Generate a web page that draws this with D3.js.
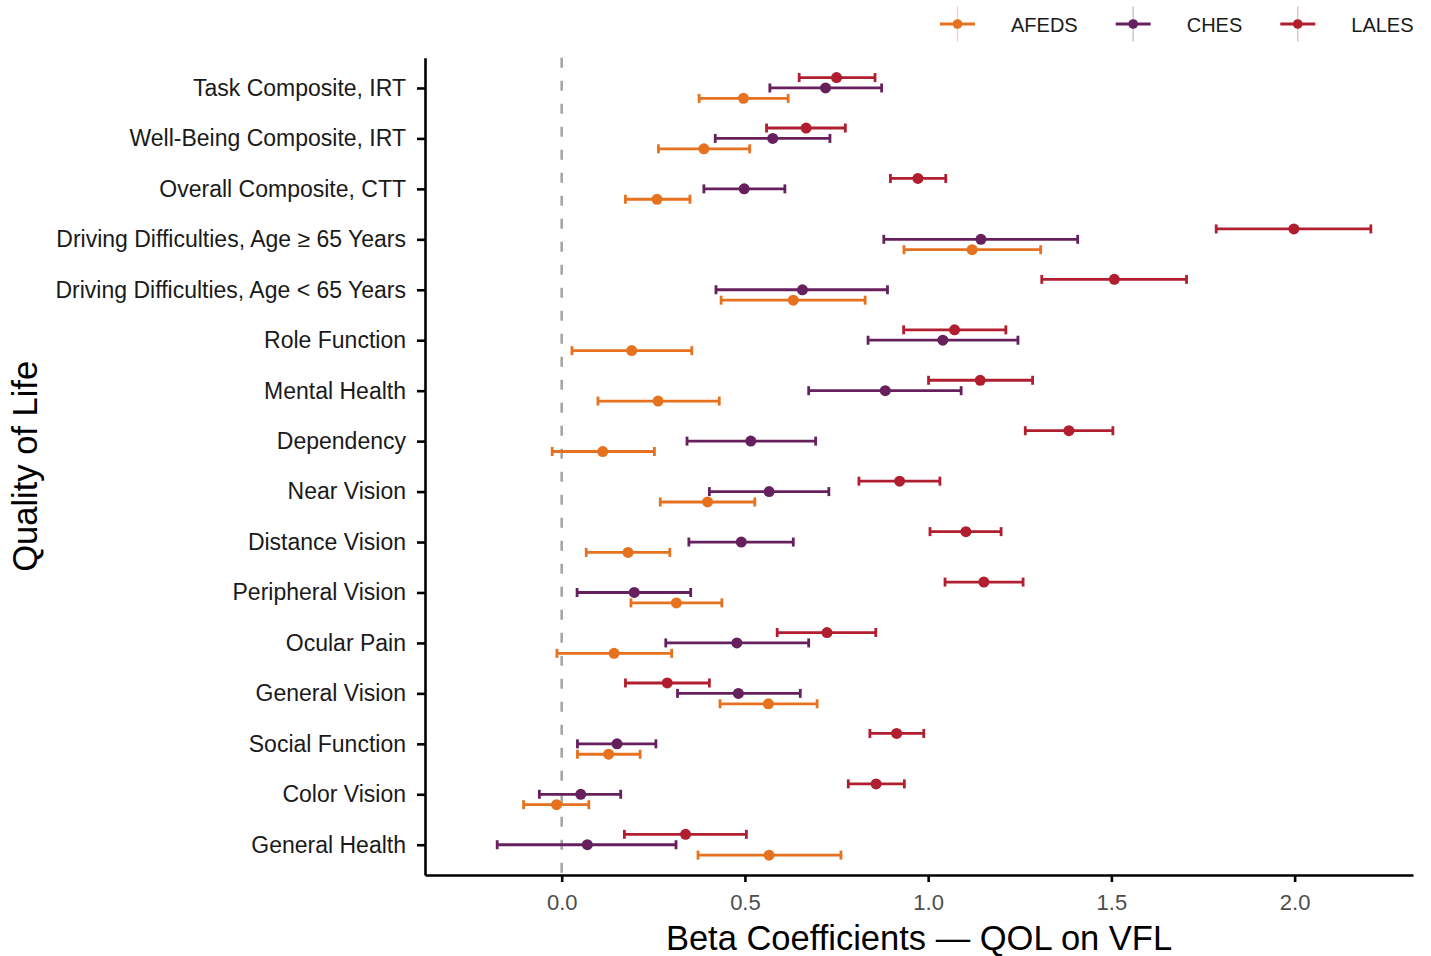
<!DOCTYPE html>
<html>
<head>
<meta charset="utf-8">
<script src="https://cdn.jsdelivr.net/npm/d3@7"></script>
<style>
  html, body { margin: 0; padding: 0; background: #fff; }
  svg { display: block; font-family: "Liberation Sans", Arial, Helvetica, sans-serif; }
</style>
</head>
<body>
<div id="chart"></div>
<script>
// categories, top to bottom
const categories = [
  "Task Composite, IRT",
  "Well-Being Composite, IRT",
  "Overall Composite, CTT",
  "Driving Difficulties, Age \u2265 65 Years",
  "Driving Difficulties, Age < 65 Years",
  "Role Function",
  "Mental Health",
  "Dependency",
  "Near Vision",
  "Distance Vision",
  "Peripheral Vision",
  "Ocular Pain",
  "General Vision",
  "Social Function",
  "Color Vision",
  "General Health"
];

const seriesNames = ["AFEDS", "CHES", "LALES"];
const seriesColors = ["#E6711F", "#66205E", "#B11E2F"];

// beta estimates and 95% CI, same order as categories
const afedsEst = [0.496, 0.388, 0.260, 1.120, 0.632, 0.191, 0.263, 0.112, 0.398, 0.181, 0.313, 0.143, 0.564, 0.128, -0.014, 0.566];
const afedsLo  = [0.375, 0.264, 0.174, 0.934, 0.435, 0.028, 0.099, -0.026, 0.269, 0.067, 0.189, -0.013, 0.432, 0.043, -0.104, 0.372];
const afedsHi  = [0.618, 0.513, 0.350, 1.307, 0.828, 0.355, 0.430, 0.253, 0.527, 0.295, 0.437, 0.300, 0.697, 0.214, 0.074, 0.762];

const chesEst = [0.720, 0.576, 0.498, 1.144, 0.657, 1.040, 0.883, 0.516, 0.566, 0.490, 0.198, 0.478, 0.482, 0.151, 0.052, 0.070];
const chesLo  = [0.568, 0.419, 0.388, 0.879, 0.421, 0.836, 0.674, 0.342, 0.403, 0.347, 0.042, 0.284, 0.316, 0.043, -0.061, -0.176];
const chesHi  = [0.873, 0.732, 0.609, 1.408, 0.889, 1.245, 1.090, 0.693, 0.729, 0.632, 0.352, 0.674, 0.651, 0.257, 0.161, 0.312];

const lalesEst = [0.750, 0.667, 0.972, 1.998, 1.508, 1.072, 1.142, 1.384, 0.922, 1.103, 1.152, 0.724, 0.288, 0.914, 0.858, 0.338];
const lalesLo  = [0.648, 0.559, 0.897, 1.786, 1.310, 0.933, 1.001, 1.265, 0.811, 1.005, 1.046, 0.588, 0.174, 0.841, 0.782, 0.171];
const lalesHi  = [0.855, 0.774, 1.048, 2.208, 1.705, 1.212, 1.285, 1.504, 1.032, 1.199, 1.259, 0.857, 0.403, 0.988, 0.935, 0.504];

const xTicks = [0, 0.5, 1.0, 1.5, 2.0];
const xDomain = [-0.373, 2.323];

const W = 1431, H = 956;
const m = { top: 57.7, right: 18, bottom: 81, left: 425 };

const table = [];
[[afedsEst, afedsLo, afedsHi], [chesEst, chesLo, chesHi], [lalesEst, lalesLo, lalesHi]].forEach((s, si) => {
  categories.forEach((c, i) => {
    table.push({ cat: c, series: seriesNames[si], est: s[0][i], lo: s[1][i], hi: s[2][i] });
  });
});

const color = d3.scaleOrdinal(seriesNames, seriesColors);

const svg = d3.select("#chart").append("svg").attr("width", W).attr("height", H);

const x = d3.scaleLinear().domain(xDomain).range([m.left, W - m.right]);
const y = d3.scalePoint().domain(categories).range([m.top, H - m.bottom]).padding(0.6);
// dodge: LALES on top, AFEDS at bottom
const dodge = d3.scalePoint().domain(["LALES", "CHES", "AFEDS"]).range([-10.4, 10.4]);

// zero reference line
svg.append("line")
  .attr("x1", x(0)).attr("x2", x(0))
  .attr("y1", m.top).attr("y2", H - m.bottom)
  .attr("stroke", "#A6A6A6").attr("stroke-width", 2.6)
  .attr("stroke-dasharray", "10,13");

// axes
const yAxis = svg.append("g")
  .attr("transform", `translate(${m.left},0)`)
  .call(d3.axisLeft(y).tickSize(8).tickSizeOuter(0).tickPadding(11));
yAxis.selectAll("text").style("font-size", "23px").attr("fill", "#1a1a1a");

const xAxis = svg.append("g")
  .attr("transform", `translate(0,${H - m.bottom})`)
  .call(d3.axisBottom(x).tickValues(xTicks).tickFormat(d3.format(".1f")).tickSize(7).tickSizeOuter(0).tickPadding(12));
xAxis.selectAll("text").style("font-size", "22px").attr("fill", "#4d4d4d");

svg.selectAll(".domain, .tick line").attr("stroke", "#000").attr("stroke-width", 2.6);

// error bars
const g = svg.append("g");
const rows = g.selectAll("g.row").data(table).join("g").attr("class", "row")
  .attr("transform", d => `translate(0,${y(d.cat) + dodge(d.series)})`)
  .attr("stroke", d => color(d.series))
  .attr("fill", d => color(d.series));

rows.append("line")
  .attr("x1", d => x(d.lo)).attr("x2", d => x(d.hi))
  .attr("stroke-width", 2.8);
rows.append("line")
  .attr("x1", d => x(d.lo)).attr("x2", d => x(d.lo)).attr("y1", -4.5).attr("y2", 4.5)
  .attr("stroke-width", 2.8);
rows.append("line")
  .attr("x1", d => x(d.hi)).attr("x2", d => x(d.hi)).attr("y1", -4.5).attr("y2", 4.5)
  .attr("stroke-width", 2.8);
rows.append("circle")
  .attr("cx", d => x(d.est)).attr("r", 5.5).attr("stroke", "none");

// axis titles
svg.append("text")
  .attr("x", (m.left + W - m.right) / 2).attr("y", 950)
  .attr("text-anchor", "middle").style("font-size", "34.5px").attr("fill", "#000")
  .text("Beta Coefficients \u2014 QOL on VFL");

svg.append("text")
  .attr("transform", `translate(37,${(m.top + H - m.bottom) / 2}) rotate(-90)`)
  .attr("text-anchor", "middle").style("font-size", "34.5px").attr("fill", "#000")
  .text("Quality of Life");

// legend
const legend = svg.append("g").attr("transform", "translate(940,24)");
let lx = 0;
seriesNames.forEach(s => {
  const item = legend.append("g").attr("transform", `translate(${lx},0)`);
  item.append("line").attr("x1", 17.5).attr("x2", 17.5).attr("y1", -17.5).attr("y2", 17.5)
    .attr("stroke", color(s)).attr("stroke-width", 1.2).attr("stroke-opacity", 0.35);
  item.append("line").attr("x1", 0).attr("x2", 35)
    .attr("stroke", color(s)).attr("stroke-width", 2.8);
  item.append("circle").attr("cx", 17.5).attr("r", 4.8).attr("fill", color(s));
  const t = item.append("text").attr("x", 71).attr("y", 7.5)
    .style("font-size", "20px").attr("fill", "#1a1a1a").text(s);
  lx += 71 + t.node().getComputedTextLength() + 38;
});
</script>
</body>
</html>
